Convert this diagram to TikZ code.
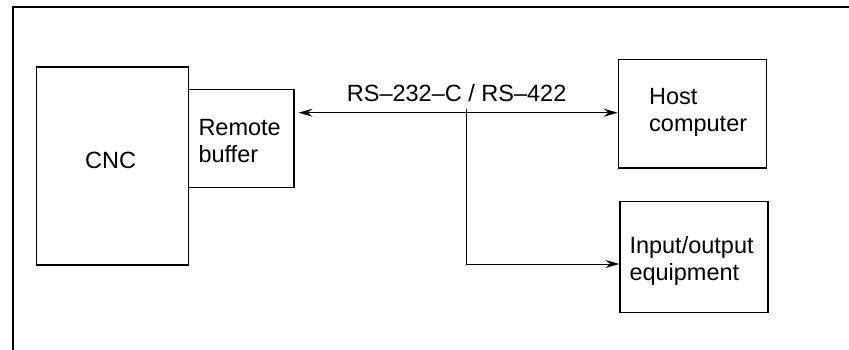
\documentclass[tikz,border=0pt]{standalone}
\usepackage{fontspec}
\setmainfont{Liberation Sans}
\usetikzlibrary{arrows.meta}
\begin{document}
\begin{tikzpicture}[x=1pt,y=-1pt,
  box/.style={draw, line width=1.3pt, inner sep=0pt},
  txt/.style={inner sep=0pt, align=left, font=\fontsize{23.5}{26.5}\selectfont},
  conn/.style={line width=0.9pt},
  tipa/.tip={Stealth[length=14pt,width=8pt,inset=5pt]}]
\useasboundingbox (0,0) rectangle (849,350);
% outer frame
\coordinate (fbl) at (12.5,350);
\coordinate (ftl) at (12.5,7);
\coordinate (ftr) at (849,7);
\draw[line width=2pt] (fbl) -- (ftl) -- (ftr);
% boxes
\node[box, minimum width=152pt, minimum height=198pt] (cnc) at (112.7,166) {};
\node[box, minimum width=105.3pt, minimum height=98.4pt] (rb) at (241.3,138.5) {};
\node[box, minimum width=148.4pt, minimum height=108.7pt] (host) at (692.5,113.7) {};
\node[box, minimum width=148pt, minimum height=111pt] (io) at (694,257.2) {};
% texts
\node[txt, anchor=base west] (cnctext) at (85,168) {CNC};
\node[txt, anchor=north west] (rbtext) at (198.3,119.5) {Remote\\buffer};
\node[txt, anchor=north west] (hosttext) at (649,88.3) {Host\\computer};
\node[txt, anchor=north west] (iotext) at (629.3,236.5) {Input/output\\equipment};
\node[txt, anchor=base west] (rs) at (346.7,101.7) {RS–232–C / RS–422};
% connectors
\coordinate (bus) at (466.7,112.7);
\coordinate (turn) at (466.7,264);
\draw[conn, tipa-tipa] ([xshift=4pt]rb.east |- bus) -- (host.west |- bus);
\draw[conn, -tipa] ([yshift=4pt]bus) -- (turn) -- (io.west |- turn);
\end{tikzpicture}
\end{document}
